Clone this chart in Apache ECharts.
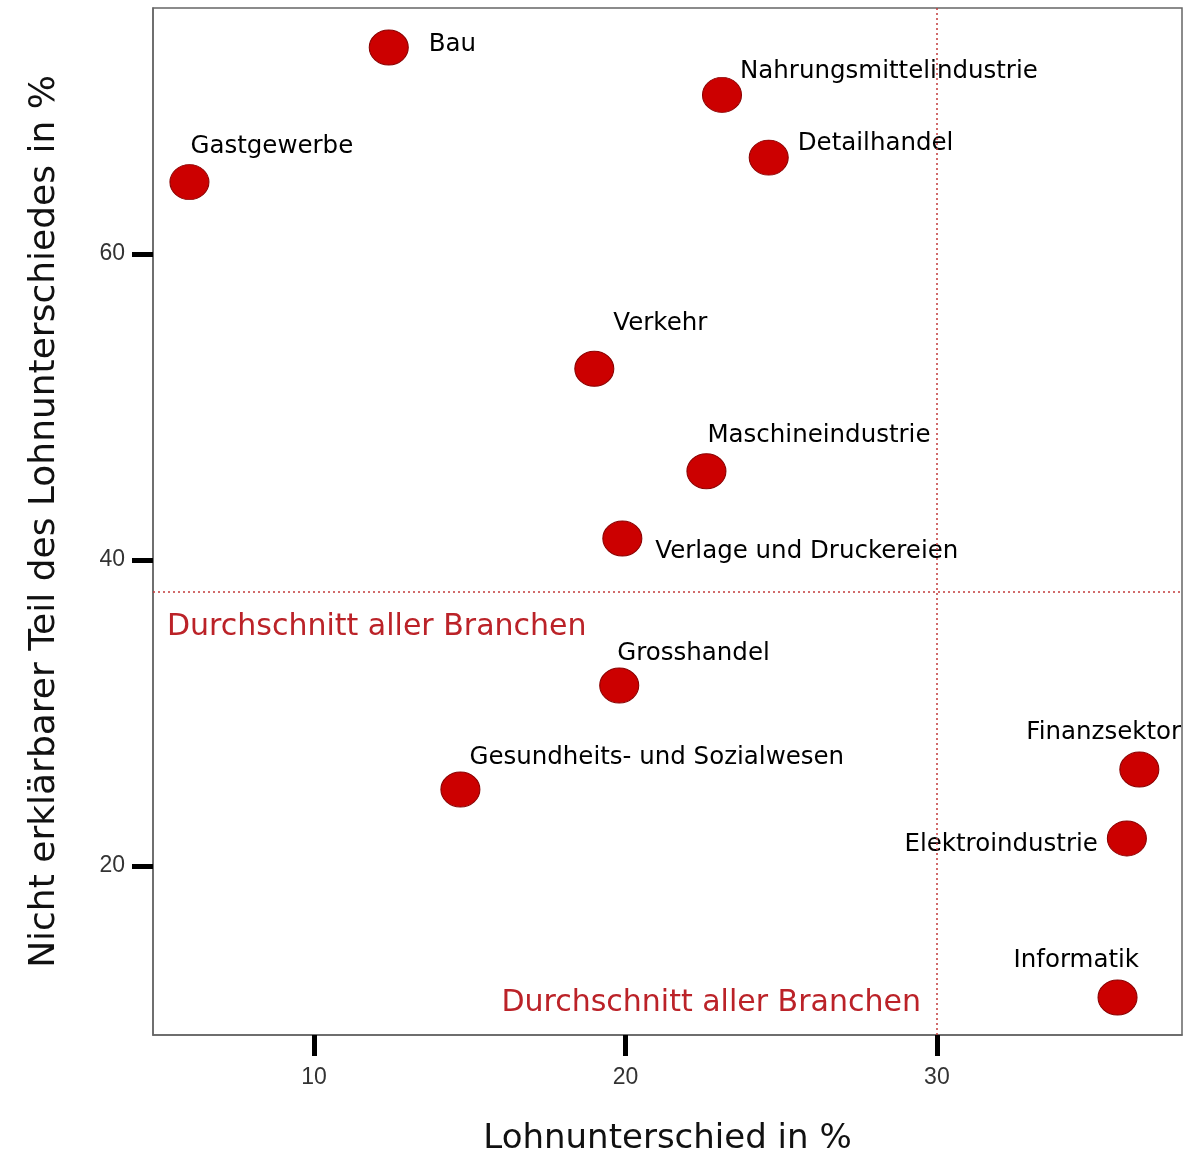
<!DOCTYPE html>
<html>
<head>
<meta charset="utf-8">
<script src="https://cdn.jsdelivr.net/npm/echarts@6/dist/echarts.min.js"></script>
<style>
  html, body { margin: 0; padding: 0; background: #fff; }
  #chart { width: 1187px; height: 1155px; }
</style>
</head>
<body>
<div id="chart"></div>
<script>
// Branchen und Werte
const branchen = ['Bau', 'Nahrungsmittelindustrie', 'Detailhandel', 'Gastgewerbe', 'Verkehr',
  'Maschineindustrie', 'Verlage und Druckereien', 'Grosshandel', 'Gesundheits- und Sozialwesen',
  'Finanzsektor', 'Elektroindustrie', 'Informatik'];
const lohnunterschied = [12.4, 23.1, 24.6, 6.0, 19.0, 22.6, 19.9, 19.8, 14.7, 36.5, 36.1, 35.8];
const nichtErklaerbar = [73.5, 70.4, 66.3, 64.7, 52.5, 45.8, 41.4, 31.8, 25.0, 26.3, 21.8, 11.4];

// Durchschnitt aller Branchen
const avgLohn = 30.0;
const avgNicht = 37.9;

const xTicks = [10, 20, 30];
const yTicks = [20, 40, 60];
const xRange = [4.83, 37.87];
const yRange = [8.95, 76.08];

// Label-Platzierung je Punkt: [dx, dy, align]
const labelLayout = [
  [40, -3, 'left'], [18, -23, 'left'], [29, -14, 'left'], [1, -35, 'left'],
  [19, -45, 'left'], [1, -36, 'left'], [33, 13, 'left'], [-2, -32, 'left'],
  [9, -32, 'left'], [-113, -37, 'left'], [-29, 6, 'right'], [-104, -37, 'left']
];

const FONT = 'DejaVu Sans';

let chart = echarts.init(document.getElementById('chart'));

let points = branchen.map((name, i) => ({
  name: name,
  value: [lohnunterschied[i], nichtErklaerbar[i]],
  label: {
    offset: [labelLayout[i][0], labelLayout[i][1]],
    align: labelLayout[i][2]
  }
}));

chart.setOption({
  animation: false,
  grid: {
    left: 153, top: 8, right: 5, bottom: 120,
    outerBoundsMode: 'none',
    containLabel: false,
    show: true, borderColor: '#666', borderWidth: 1.5, backgroundColor: '#fff'
  },
  xAxis: {
    type: 'value',
    min: xRange[0], max: xRange[1],
    name: 'Lohnunterschied in %',
    nameLocation: 'middle',
    nameGap: 87,
    nameTextStyle: { fontFamily: FONT, fontSize: 34, color: '#111' },
    axisLine: { show: true, lineStyle: { color: '#666', width: 1.5 } },
    axisTick: { show: true, length: 21, customValues: xTicks, lineStyle: { color: '#000', width: 5 } },
    axisLabel: { customValues: xTicks, margin: 31, fontFamily: 'Liberation Sans', fontSize: 23, color: '#333' },
    splitLine: { show: false }
  },
  yAxis: {
    type: 'value',
    min: yRange[0], max: yRange[1],
    name: 'Nicht erklärbarer Teil des Lohnunterschiedes in %',
    nameLocation: 'middle',
    nameGap: 90,
    nameTextStyle: { fontFamily: FONT, fontSize: 36, color: '#111' },
    axisLine: { show: true, lineStyle: { color: '#666', width: 1.5 } },
    axisTick: { show: true, length: 21, customValues: yTicks, lineStyle: { color: '#000', width: 5 } },
    axisLabel: { customValues: yTicks, margin: 28, fontFamily: 'Liberation Sans', fontSize: 23, color: '#333' },
    splitLine: { show: false }
  },
  series: [
    {
      type: 'scatter',
      data: points,
      symbol: 'circle',
      symbolSize: [39, 35],
      itemStyle: { color: '#cc0000', borderColor: '#8a0000', borderWidth: 1, opacity: 1 },
      label: {
        show: true,
        position: 'inside',
        formatter: '{b}',
        verticalAlign: 'middle',
        fontFamily: FONT,
        fontSize: 24.5,
        color: '#000',
        opacity: 1
      },
      emphasis: { disabled: true },
      markLine: {
        silent: true,
        symbol: 'none',
        label: { show: false },
        lineStyle: { color: '#c23b3b', type: [2, 3], width: 1.5, opacity: 1 },
        data: [{ xAxis: avgLohn }, { yAxis: avgNicht }]
      },
      markPoint: {
        silent: true,
        symbol: 'circle',
        symbolSize: 0,
        label: {
          show: true,
          formatter: 'Durchschnitt aller Branchen',
          fontFamily: FONT,
          fontSize: 30,
          color: '#bb2228',
          verticalAlign: 'middle'
        },
        data: [
          { coord: [xRange[0], avgNicht], label: { position: 'inside', align: 'left', offset: [14, 35] } },
          { coord: [avgLohn, yRange[0]], label: { position: 'inside', align: 'right', offset: [-16, -32] } }
        ]
      }
    }
  ]
});
</script>
</body>
</html>
